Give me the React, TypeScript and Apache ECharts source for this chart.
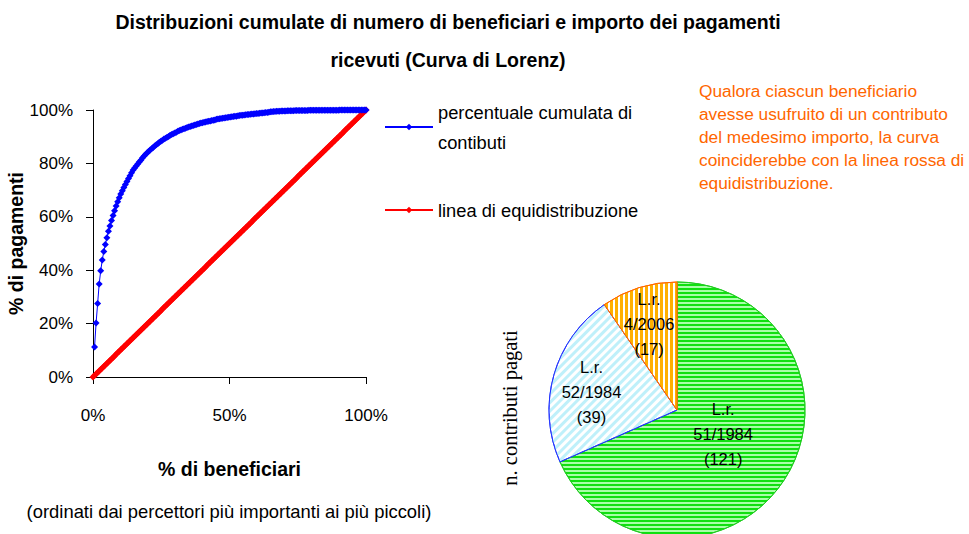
import React, { useEffect, useRef } from "react";
import * as echarts from "echarts";

const FONT = "'Liberation Sans', Arial, sans-serif";

const titleText = "Distribuzioni cumulate di numero di beneficiari e importo dei pagamenti\nricevuti (Curva di Lorenz)";
const seriesNames = ["percentuale cumulata di\ncontibuti", "linea di equidistribuzione"];
const yTickLabels = ["0%", "20%", "40%", "60%", "80%", "100%"];
const xTickLabels = ["0%", "50%", "100%"];

const pieCategories = ["L.r.\n51/1984", "L.r.\n52/1984", "L.r.\n4/2006"];
const pieCounts = [121, 39, 17];

// cumulative % of payments, beneficiaries sorted from largest to smallest (one value per beneficiary)
const cumulativePayments = [
  11.2, 20.2, 27.5, 34.8, 39.8, 43.8, 47.0, 49.6, 52.2, 54.6,
  56.6, 58.6, 60.5, 62.3, 64.0, 65.6, 67.1, 68.5, 69.8, 71.0,
  72.1, 73.2, 74.3, 75.4, 76.5, 77.5, 78.3, 79.0, 79.8, 80.5,
  81.2, 82.0, 82.7, 83.3, 83.9, 84.5, 85.0, 85.5, 86.0, 86.5,
  87.0, 87.4, 87.9, 88.3, 88.7, 89.1, 89.4, 89.8, 90.1, 90.5,
  90.8, 91.1, 91.4, 91.7, 92.0, 92.3, 92.5, 92.8, 93.0, 93.2,
  93.4, 93.6, 93.8, 94.0, 94.2, 94.4, 94.6, 94.8, 94.9, 95.1,
  95.2, 95.4, 95.5, 95.7, 95.8, 95.9, 96.1, 96.2, 96.3, 96.5,
  96.6, 96.7, 96.8, 96.9, 97.0, 97.1, 97.2, 97.3, 97.4, 97.5,
  97.6, 97.7, 97.7, 97.8, 97.9, 98.0, 98.0, 98.1, 98.2, 98.3,
  98.3, 98.4, 98.5, 98.5, 98.6, 98.7, 98.7, 98.8, 98.9, 98.9,
  99.0, 99.1, 99.1, 99.2, 99.3, 99.3, 99.4, 99.4, 99.5, 99.5,
  99.5, 99.6, 99.6, 99.6, 99.6, 99.7, 99.7, 99.7, 99.7, 99.7,
  99.8, 99.8, 99.8, 99.8, 99.8, 99.8, 99.8, 99.8, 99.8, 99.9,
  99.9, 99.9, 99.9, 99.9, 99.9, 99.9, 99.9, 99.9, 99.9, 99.9,
  99.9, 99.9, 99.9, 99.9, 99.9, 99.9, 99.9, 99.9, 99.9, 100,
  100, 100, 100, 100, 100, 100, 100, 100, 100, 100,
  100, 100, 100, 100, 100, 100, 100,
];

const annotationText = "Qualora ciascun beneficiario\navesse usufruito di un contributo\ndel medesimo importo, la curva\ncoinciderebbe con la linea rossa di\nequidistribuzione.";
const xSubtitle = "(ordinati dai percettori più importanti ai più piccoli)";
const pieAxisTitle = "n. contributi pagati";

export default function App() {
  const ref = useRef<HTMLDivElement>(null);
  useEffect(() => {
    if (!ref.current) return;
    const chart = echarts.init(ref.current, null, { renderer: "svg" });
    const N = pieCounts.reduce((a, b) => a + b, 0);
    const blueData = cumulativePayments.map((v, i) => [((i + 1) / N) * 100, v]);
    const redData: number[][] = [];
    for (let i = 0; i <= N; i++) redData.push([(i / N) * 100, (i / N) * 100]);

    const sliceStyles = [
      {
        color: "#a8ffa8",
        borderColor: "#22cc22",
        decal: { symbol: "rect", symbolSize: 1, color: "#10e010", dashArrayX: [1, 0], dashArrayY: [1.5, 1.5], rotation: 0 },
      },
      {
        color: "#ffffff",
        borderColor: "#2233ff",
        decal: { symbol: "rect", symbolSize: 1, color: "#bff0fa", dashArrayX: [1, 0], dashArrayY: [3, 3], rotation: -Math.PI / 4 },
      },
      {
        color: "#ffffff",
        borderColor: "#ff6600",
        decal: { symbol: "rect", symbolSize: 1, color: "#ffb000", dashArrayX: [3, 2], dashArrayY: [1, 0], rotation: 0 },
      },
    ];
    const labelShift = [
      [-10, -13],
      [-21, 0],
      [-8, -22],
    ];

    chart.setOption({
      animation: false,
      backgroundColor: "#ffffff",
      textStyle: { fontFamily: FONT },
      title: {
        text: titleText,
        left: 448,
        top: 3,
        padding: 0,
        textAlign: "center",
        textStyle: { fontFamily: FONT, fontSize: 19.5, fontWeight: "bold", color: "#000", lineHeight: 38 },
      },
      legend: [
        {
          data: [seriesNames[0]],
          left: 384,
          top: 82,
          padding: 0,
          itemWidth: 48,
          itemHeight: 8,
          itemGap: 0,
          textStyle: { fontFamily: FONT, fontSize: 18.3, color: "#000", lineHeight: 30, padding: [30, 0, 0, 0] },
        },
        {
          data: [seriesNames[1]],
          left: 384,
          top: 195,
          padding: 0,
          itemWidth: 48,
          itemHeight: 8,
          textStyle: { fontFamily: FONT, fontSize: 18.3, color: "#000", lineHeight: 30 },
        },
      ],
      grid: { left: 93, right: 603, top: 110, bottom: 157, containLabel: false },
      xAxis: {
        type: "value",
        min: 0,
        max: 100,
        interval: 50,
        name: "% di beneficiari",
        nameLocation: "middle",
        nameGap: 82,
        nameTextStyle: { fontFamily: FONT, fontSize: 19.5, fontWeight: "bold", color: "#000" },
        axisLine: { show: true, lineStyle: { color: "#000", width: 1 } },
        axisTick: { show: true, length: 7, lineStyle: { color: "#000" } },
        splitLine: { show: false },
        axisLabel: {
          margin: 30,
          fontSize: 17,
          color: "#000",
          fontFamily: FONT,
          formatter: (v: number) => xTickLabels[Math.round(v / 50)],
        },
      },
      yAxis: {
        type: "value",
        min: 0,
        max: 100,
        interval: 20,
        name: "% di pagamenti",
        nameLocation: "middle",
        nameGap: 65,
        nameTextStyle: { fontFamily: FONT, fontSize: 19.5, fontWeight: "bold", color: "#000" },
        axisLine: { show: true, lineStyle: { color: "#000", width: 1 } },
        axisTick: { show: true, length: 7, lineStyle: { color: "#000" } },
        splitLine: { show: false },
        axisLabel: {
          margin: 20,
          fontSize: 17,
          color: "#000",
          fontFamily: FONT,
          formatter: (v: number) => yTickLabels[Math.round(v / 20)],
        },
      },
      series: [
        {
          name: seriesNames[0],
          type: "line",
          data: blueData,
          symbol: "diamond",
          symbolSize: 7,
          showAllSymbol: true,
          itemStyle: { color: "#0000ff" },
          lineStyle: { color: "#0000ff", width: 1 },
          z: 3,
        },
        {
          name: seriesNames[1],
          type: "line",
          data: redData,
          symbol: "diamond",
          symbolSize: 7,
          showAllSymbol: true,
          itemStyle: { color: "#ff0000" },
          lineStyle: { color: "#ff0000", width: 1.5 },
          z: 2,
        },
        {
          type: "pie",
          center: [677, 410],
          radius: 128,
          startAngle: 90,
          clockwise: true,
          silent: true,
          label: {
            show: true,
            position: "inside",
            fontFamily: FONT,
            fontSize: 16.5,
            lineHeight: 25,
            color: "#000",
            formatter: (p: any) => `${p.name}\n(${p.value})`,
          },
          labelLine: { show: false },
          labelLayout: (p: any) => ({ dx: labelShift[p.dataIndex][0], dy: labelShift[p.dataIndex][1] }),
          data: pieCategories.map((name, i) => ({
            name,
            value: pieCounts[i],
            itemStyle: { ...sliceStyles[i], borderWidth: 1 },
          })),
        },
      ],
      graphic: [
        {
          type: "text",
          left: 699,
          top: 79,
          style: {
            text: annotationText,
            fill: "#ff6600",
            font: `17.3px ${FONT}`,
            lineHeight: 23.2,
          },
        },
        {
          type: "text",
          x: 229,
          y: 511,
          style: {
            text: xSubtitle,
            fill: "#000",
            font: `18.4px ${FONT}`,
            align: "center",
            verticalAlign: "middle",
          },
        },
        {
          type: "text",
          x: 510,
          y: 408,
          rotation: Math.PI / 2,
          style: {
            text: pieAxisTitle,
            fill: "#000",
            font: "20.5px 'Liberation Serif', 'Times New Roman', serif",
            align: "center",
            verticalAlign: "middle",
          },
        },
      ],
    });
    return () => chart.dispose();
  }, []);
  return <div ref={ref} style={{ width: 969, height: 534, position: "absolute", left: 0, top: 0 }} />;
}
